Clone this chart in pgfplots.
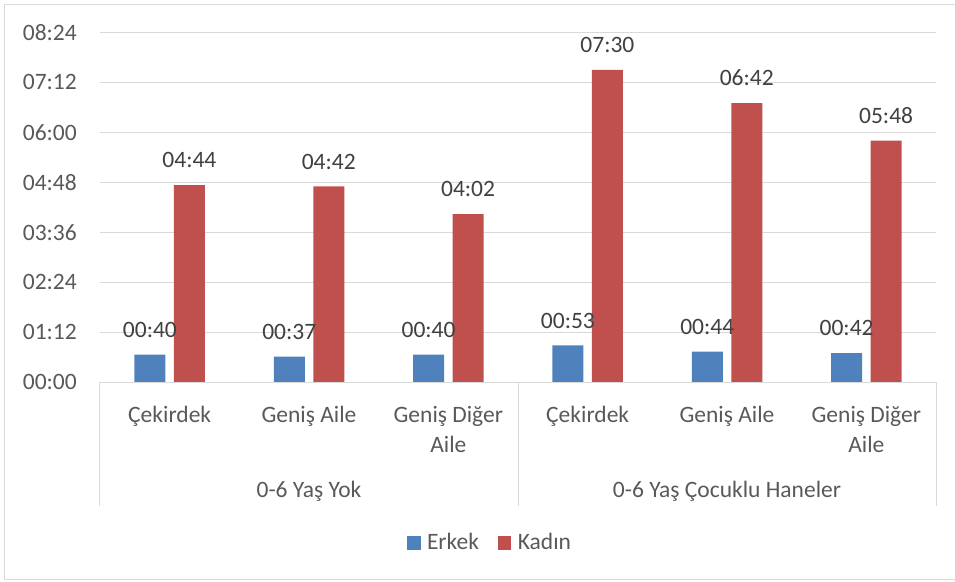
\documentclass[border=0pt]{standalone}
\usepackage{pgfplots}
\pgfplotsset{compat=1.18}
\usepackage{fontspec}
\setmainfont{Carlito}
\definecolor{erkek}{HTML}{4F81BD}
\definecolor{kadin}{HTML}{C0504D}
\definecolor{gridc}{HTML}{D9D9D9}
\definecolor{ticktext}{HTML}{595959}
\definecolor{labeltext}{HTML}{404040}
\begin{document}
\begin{tikzpicture}[font=\fontsize{23.5pt}{30pt}\selectfont]
\useasboundingbox (-100pt,-198.7pt) rectangle (855pt,382.3pt);
\draw[gridc, line width=1pt] (860pt,377.3pt) -- (-95pt,377.3pt) -- (-95pt,-196.7pt) -- (860pt,-196.7pt);
\begin{axis}[
  at={(0pt,0pt)}, anchor=south west,
  scale only axis, width=836pt, height=350pt,
  xmin=-0.5, xmax=5.5, ymin=0, ymax=504,
  ybar=8.5pt, bar width=31pt,
  axis line style={draw=none},
  major tick length=0pt,
  ytick={0,72,144,216,288,360,432,504},
  yticklabels={00:00,01:12,02:24,03:36,04:48,06:00,07:12,08:24},
  ymajorgrids, grid style={gridc, line width=1pt},
  yticklabel style={anchor=east, inner sep=0pt, xshift=-23pt, text=ticktext},
  xtick={0,1,2,3,4,5},
  xticklabels={{\strut Çekirdek}, {\strut Geniş Aile}, {\strut Geniş Diğer\\Aile}, {\strut Çekirdek}, {\strut Geniş Aile}, {\strut Geniş Diğer\\Aile}},
  xticklabel style={align=center, anchor=north, inner sep=0pt, yshift=-18.7pt, text=ticktext},
  nodes near coords={\pgfplotspointmeta},
  point meta=explicit symbolic,
  every node near coord/.append style={anchor=south, inner sep=0pt, yshift=17pt, text=labeltext},
  legend columns=2,
  legend style={at={(0.4654,-0.4577)}, anchor=center, draw=none, fill=none, inner sep=0pt,
    text=ticktext, nodes={inner sep=0pt, anchor=base west},
    /tikz/every odd column/.append style={column sep=6.5pt},
    /tikz/every even column/.append style={column sep=19pt}},
  every axis plot post/.append style={legend image code/.code={\fill[##1] (0pt,0pt) rectangle (13.4pt,14pt);}},
  clip=false,
]
\addplot[fill=erkek, draw=none] coordinates {(0,40)[00:40] (1,37)[00:37] (2,40)[00:40] (3,53)[00:53] (4,44)[00:44] (5,42)[00:42]};
\addplot[fill=kadin, draw=none] coordinates {(0,284)[04:44] (1,282)[04:42] (2,242)[04:02] (3,450)[07:30] (4,402)[06:42] (5,348)[05:48]};
\legend{Erkek, Kadın}
\draw[gridc, line width=1pt] (axis cs:-0.5,0) -- (axis cs:5.5,0);
\draw[gridc, line width=1pt] (axis cs:-0.5,0) -- ++(0pt,-124pt);
\draw[gridc, line width=1pt] (axis cs:2.5,0) -- ++(0pt,-124pt);
\draw[gridc, line width=1pt] (axis cs:5.5,0) -- ++(0pt,-124pt);
\node[anchor=base, inner sep=0pt, text=ticktext] at ([yshift=-115pt]axis cs:1,0) {0-6 Yaş Yok};
\node[anchor=base, inner sep=0pt, text=ticktext] at ([yshift=-115pt]axis cs:4,0) {0-6 Yaş Çocuklu Haneler};
\end{axis}
\end{tikzpicture}
\end{document}
